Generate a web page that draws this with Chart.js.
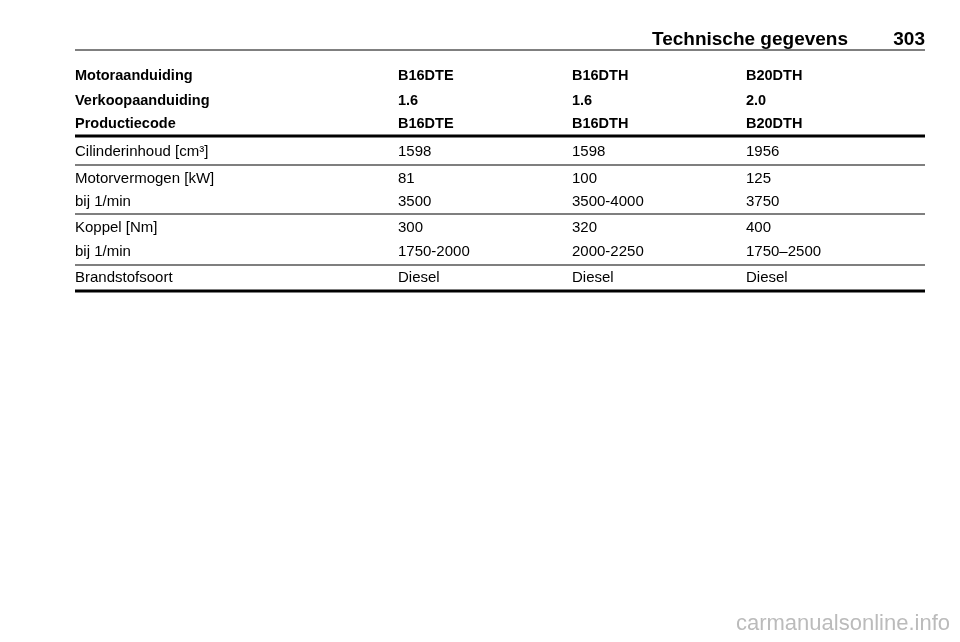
<!DOCTYPE html>
<html lang="nl">
<head>
<meta charset="UTF-8">
<title>Technische gegevens</title>
<style>
  body { margin: 0; background: #fff; }
  #wrap { width: 960px; height: 642px; position: relative; }
  #footer { position: absolute; right: 10px; bottom: 6px; font: 22px "Liberation Sans", Arial, sans-serif; color: #bbb; }
</style>
</head>
<body>
<div id="wrap"><canvas id="table"></canvas><div id="footer">carmanualsonline.info</div></div>
<script src="https://cdn.jsdelivr.net/npm/chart.js"></script>
<script>
const pageTitle = 'Technische gegevens';
const pageNumber = '303';
const headRows = [
  ['Motoraanduiding', 'B16DTE', 'B16DTH', 'B20DTH'],
  ['Verkoopaanduiding', '1.6', '1.6', '2.0'],
  ['Productiecode', 'B16DTE', 'B16DTH', 'B20DTH']
];
const bodyRows = [
  ['Cilinderinhoud [cm³]', '1598', '1598', '1956'],
  ['Motorvermogen [kW]', '81', '100', '125'],
  ['bij 1/min', '3500', '3500-4000', '3750'],
  ['Koppel [Nm]', '300', '320', '400'],
  ['bij 1/min', '1750-2000', '2000-2250', '1750–2500'],
  ['Brandstofsoort', 'Diesel', 'Diesel', 'Diesel']
];

// layout (pixels)
const colX = [75, 398, 572, 746];
const headY = [76, 101, 124];
const bodyY = [152, 179, 202, 228, 252, 278];
const thinLines = [165, 214, 265];
const thickLines = [136, 291];

const tablePlugin = {
  id: 'tablePlugin',
  afterDraw(chart) {
    const ctx = chart.ctx, xs = chart.scales.x, ys = chart.scales.y;
    const X = v => xs.getPixelForValue(v), Y = v => ys.getPixelForValue(v);
    ctx.save();
    ctx.fillStyle = '#000';
    ctx.strokeStyle = '#000';
    ctx.textBaseline = 'middle';
    ctx.font = 'bold 19px "Liberation Sans", Arial, sans-serif';
    ctx.textAlign = 'right';
    ctx.fillText(pageNumber, X(925), Y(40));
    ctx.fillText(pageTitle, X(848), Y(40));
    ctx.lineWidth = 1;
    ctx.beginPath(); ctx.moveTo(X(75), Y(50)); ctx.lineTo(X(925), Y(50)); ctx.stroke();
    ctx.textAlign = 'left';
    ctx.font = 'bold 14.5px "Liberation Sans", Arial, sans-serif';
    headRows.forEach((r, i) => r.forEach((t, j) => ctx.fillText(t, X(colX[j]), Y(headY[i]))));
    ctx.font = '15px "Liberation Sans", Arial, sans-serif';
    bodyRows.forEach((r, i) => r.forEach((t, j) => ctx.fillText(t, X(colX[j]), Y(bodyY[i]))));
    ctx.lineWidth = 1.2;
    thinLines.forEach(y => { ctx.beginPath(); ctx.moveTo(X(75), Y(y)); ctx.lineTo(X(925), Y(y)); ctx.stroke(); });
    ctx.lineWidth = 3;
    thickLines.forEach(y => { ctx.beginPath(); ctx.moveTo(X(75), Y(y)); ctx.lineTo(X(925), Y(y)); ctx.stroke(); });
    ctx.restore();
  }
};

new Chart(document.getElementById('table'), {
  type: 'scatter',
  data: { datasets: [{ data: [] }] },
  options: {
    responsive: true,
    maintainAspectRatio: false,
    animation: false,
    layout: { padding: 0 },
    plugins: { legend: { display: false }, tooltip: { enabled: false } },
    scales: {
      x: { type: 'linear', min: 0, max: 960, display: false },
      y: { type: 'linear', min: 0, max: 642, reverse: true, display: false }
    }
  },
  plugins: [tablePlugin]
});
</script>
</body>
</html>
